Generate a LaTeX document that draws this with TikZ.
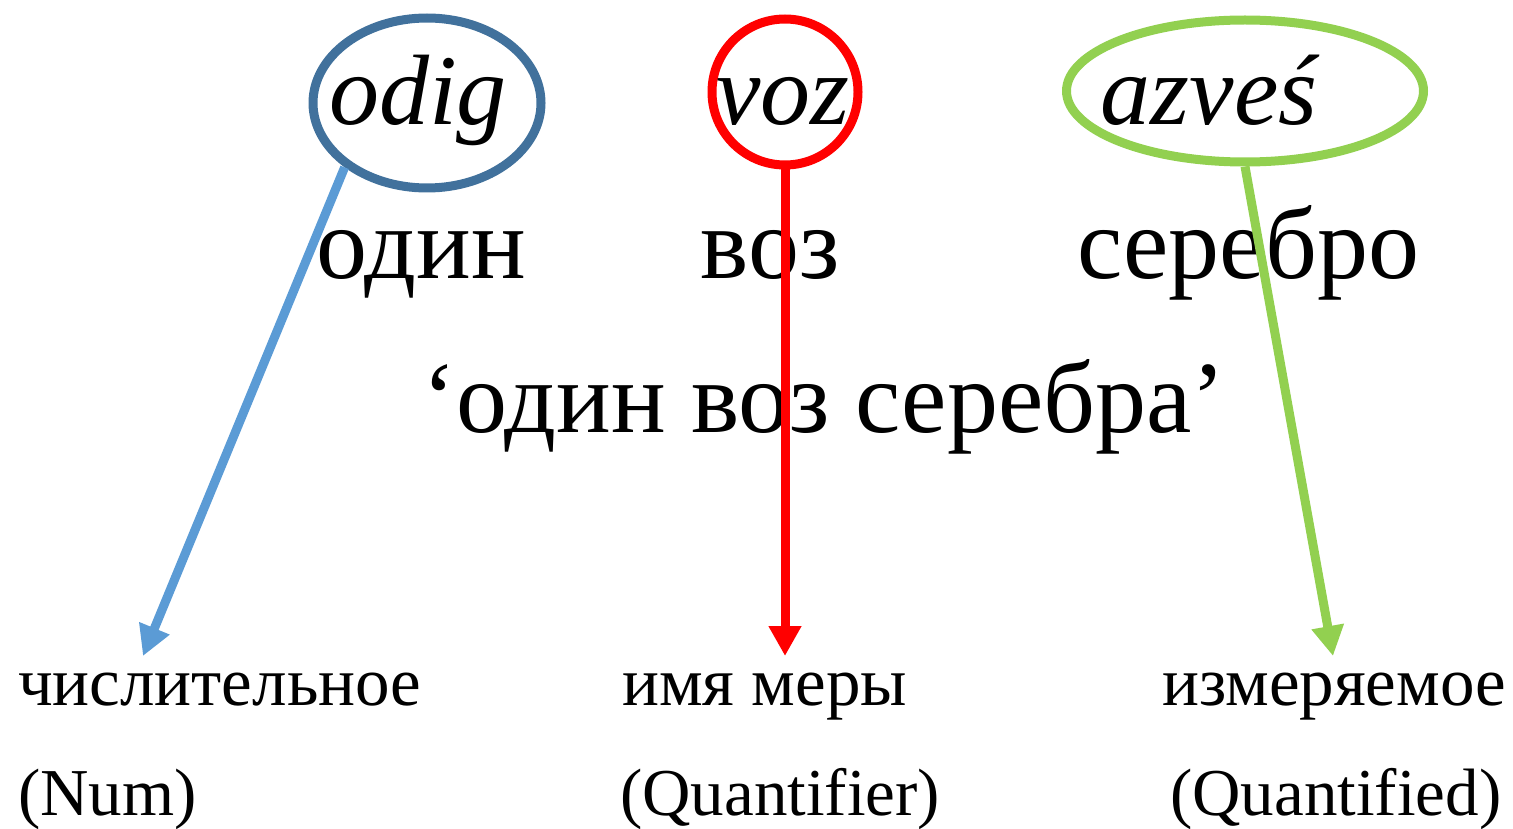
\documentclass[tikz,border=0pt]{standalone}
\usepackage{fontspec}
\setmainfont{Liberation Serif}
\usetikzlibrary{shapes.geometric,arrows.meta}
\definecolor{ringblue}{HTML}{41719C}
\definecolor{arrowblue}{HTML}{5B9BD5}
\definecolor{ringred}{HTML}{FF0000}
\definecolor{ringgreen}{HTML}{92D050}
\tikzset{
  ring/.style={ellipse, draw, line width=9pt, inner sep=0pt},
  bigword/.style={anchor=base, font=\fontsize{102}{110}\selectfont, inner sep=0pt},
  itword/.style={anchor=base, font=\fontsize{100}{110}\selectfont\itshape, inner sep=0pt},
  label/.style={anchor=base west, font=\fontsize{69}{72}\selectfont, inner sep=0pt},
  labelen/.style={anchor=base west, font=\fontsize{67}{72}\selectfont, inner sep=0pt},
  pointer/.style={line width=9pt, -{Triangle[length=30pt,width=31pt]}},
}
\begin{document}
\begin{tikzpicture}[x=1pt,y=-1pt]
\useasboundingbox (0,0) rectangle (1513,829);
% circled source words
\node[ring, draw=ringblue, minimum width=228, minimum height=170] (eodig) at (427,103) {};
\node[ring, draw=ringred, minimum width=146, minimum height=146] (evoz) at (785,92) {};
\node[ring, draw=ringgreen, minimum width=357, minimum height=142] (eaz) at (1245,91) {};
\node[itword] (odig) at (418,125) {odig};
\node[itword] (voz) at (783,125) {voz};
\node[itword] (azves) at (1209,125) {azveś};
% glosses
\node[bigword] (odin) at (421,278) {один};
\node[bigword] (vozr) at (770,278) {воз};
\node[bigword] (serebro) at (1248,278) {серебро};
\node[bigword] (phrase) at (824,432) {‘один воз серебра’};
% role labels
\node[label] (num) at (18,705) {числительное};
\node[labelen] (numen) at (18,815) {(Num)};
\node[label] (quant) at (622,705) {имя меры};
\node[labelen] (quanten) at (620,815) {(Quantifier)};
\node[label] (meas) at (1162,705) {измеряемое};
\node[labelen] (measen) at (1170,815) {(Quantified)};
% arrow targets
\coordinate (tnum) at (143,656);
\coordinate (tquant) at (785,656);
\coordinate (tmeas) at (1333,656);
\draw[pointer, arrowblue] (eodig.218) -- (tnum);
\draw[pointer, ringred] (evoz.south) -- (tquant);
\draw[pointer, ringgreen] (eaz.south) -- (tmeas);
\end{tikzpicture}
\end{document}
